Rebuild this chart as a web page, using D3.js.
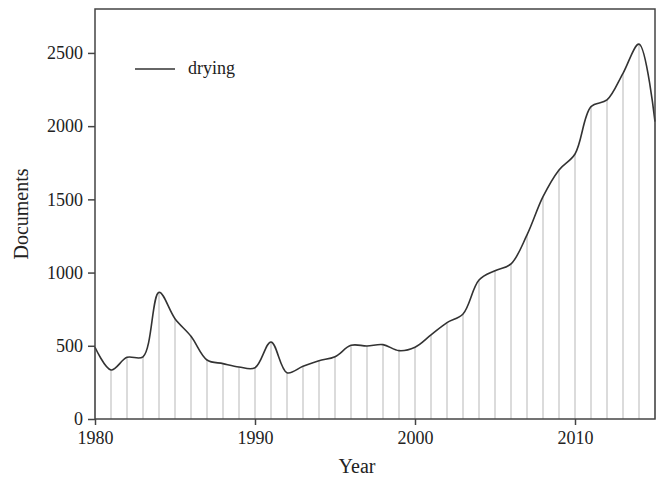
<!DOCTYPE html>
<html>
<head>
<meta charset="utf-8">
<script src="https://cdn.jsdelivr.net/npm/d3@7"></script>
<style>
  body { margin: 0; background: #fff; }
  text { font-family: "Liberation Serif", "Times New Roman", serif; fill: #222; }
</style>
</head>
<body>
<div id="chart"></div>
<script>
// data
var years = d3.range(1980, 2016);
var docs = [490, 335, 421, 425, 865, 685, 565, 403, 378, 355, 350, 526, 316, 360, 398, 425,
            503, 499, 508, 467, 490, 574, 658, 717, 949, 1013, 1059, 1257, 1518, 1701, 1810,
            2133, 2179, 2361, 2560, 2031];
var yTicks = [0, 500, 1000, 1500, 2000, 2500];
var xTicks = [1980, 1990, 2000, 2010];

var margin = { top: 9, left: 95, right: 5, bottom: 60 },
    width = 660 - margin.left - margin.right,
    height = 479 - margin.top - margin.bottom;

var svg = d3.select("#chart")
    .append("svg")
    .attr("width", 660)
    .attr("height", 479)
    .append("g")
    .attr("transform", "translate(" + margin.left + "," + margin.top + ")");

var x = d3.scaleLinear().domain([1980, 2015]).range([0, width]);
var y = d3.scaleLinear().domain([0, 2800]).range([height, 0]);

var data = years.map(function (yr, i) { return { year: yr, value: docs[i] }; });

// grey drop lines
svg.selectAll(".drop")
    .data(data)
    .enter().append("line")
    .attr("class", "drop")
    .attr("x1", d => x(d.year))
    .attr("x2", d => x(d.year))
    .attr("y1", d => y(d.value))
    .attr("y2", height)
    .attr("stroke", "#cfcfcf")
    .attr("stroke-width", 1.5);

// smooth line
var line = d3.line()
    .x(d => x(d.year))
    .y(d => y(d.value))
    .curve(d3.curveCatmullRom.alpha(0.5));

svg.append("path")
    .datum(data)
    .attr("d", line)
    .attr("fill", "none")
    .attr("stroke", "#333")
    .attr("stroke-width", 1.6);

// frame
svg.append("rect")
    .attr("width", width)
    .attr("height", height)
    .attr("fill", "none")
    .attr("stroke", "#444")
    .attr("stroke-width", 1.5);

// axes
var yAxis = svg.append("g")
    .call(d3.axisLeft(y).tickValues(yTicks).tickSize(7).tickPadding(5).tickFormat(d3.format("d")));
var xAxis = svg.append("g")
    .attr("transform", "translate(0," + height + ")")
    .call(d3.axisBottom(x).tickValues(xTicks).tickSize(6).tickPadding(6).tickFormat(d3.format("d")));

[yAxis, xAxis].forEach(function (ax) {
    ax.select(".domain").remove();
    ax.selectAll("line").attr("stroke", "#444").attr("stroke-width", 1.5);
    ax.selectAll("text")
        .attr("font-family", "Liberation Serif, serif")
        .attr("font-size", 18)
        .attr("fill", "#222");
});

// axis titles
svg.append("text")
    .attr("transform", "translate(" + (-67) + "," + (214 - margin.top) + ") rotate(-90)")
    .attr("text-anchor", "middle")
    .attr("font-size", 20)
    .text("Documents");

svg.append("text")
    .attr("x", 357 - margin.left)
    .attr("y", height + 54)
    .attr("text-anchor", "middle")
    .attr("font-size", 20)
    .text("Year");

// legend
svg.append("line")
    .attr("x1", 40).attr("x2", 80)
    .attr("y1", 60).attr("y2", 60)
    .attr("stroke", "#333")
    .attr("stroke-width", 1.5);
svg.append("text")
    .attr("x", 93)
    .attr("y", 65)
    .attr("font-size", 18)
    .text("drying");
</script>
</body>
</html>
